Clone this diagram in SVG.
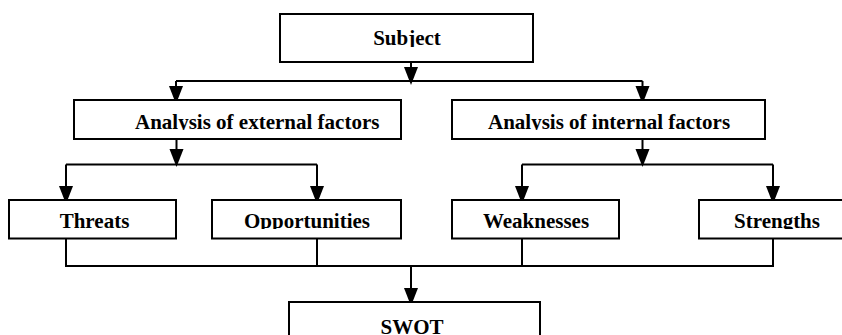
<svg xmlns="http://www.w3.org/2000/svg" width="842" height="335" viewBox="0 0 842 335">
<style>
.box{fill:#fff;stroke:#000;stroke-width:2}
.t{font-family:"Liberation Serif","Times New Roman",serif;font-weight:bold;font-size:21px;fill:#000}
.c{text-anchor:middle}
.ln{fill:none;stroke:#000;stroke-width:2}
</style>
<defs>
<marker id="ah" viewBox="0 0 14 18" refX="14" refY="7" markerWidth="14" markerHeight="18" markerUnits="userSpaceOnUse" orient="auto" overflow="visible">
<path d="M0,0 L18,7 L0,14 Z" fill="#000"/>
</marker>
<clipPath id="c1"><rect x="0" y="0" width="842" height="47"/></clipPath>
<clipPath id="c2"><rect x="0" y="100" width="842" height="30"/></clipPath>
<clipPath id="c3"><rect x="0" y="200" width="842" height="29"/></clipPath>
</defs>
<g id="connectors">
<path class="ln" d="M411,62 V81" marker-end="url(#ah)"/>
<path class="ln" d="M176,81 H642.5"/>
<path class="ln" d="M176,81 V100" marker-end="url(#ah)"/>
<path class="ln" d="M642.5,81 V100" marker-end="url(#ah)"/>
<path class="ln" d="M176.5,139 V163" marker-end="url(#ah)"/>
<path class="ln" d="M66,164.5 H317"/>
<path class="ln" d="M66,164.5 V200" marker-end="url(#ah)"/>
<path class="ln" d="M317,164.5 V200" marker-end="url(#ah)"/>
<path class="ln" d="M642.5,139 V163" marker-end="url(#ah)"/>
<path class="ln" d="M522,164.5 H773"/>
<path class="ln" d="M522,164.5 V200" marker-end="url(#ah)"/>
<path class="ln" d="M773,164.5 V200" marker-end="url(#ah)"/>
<path class="ln" d="M66,238.5 V266 H773 V238.5"/>
<path class="ln" d="M317,238.5 V266"/>
<path class="ln" d="M522,238.5 V266"/>
<path class="ln" d="M411,266 V302" marker-end="url(#ah)"/>
</g>
<g id="subject">
<rect class="box" x="280" y="14" width="253" height="48"/>
<text class="t c" x="407" y="45" clip-path="url(#c1)">Subject</text>
</g>
<g id="external">
<rect class="box" x="74" y="100" width="327" height="39"/>
<text class="t" x="135" y="129" clip-path="url(#c2)">Analysis of external factors</text>
</g>
<g id="internal">
<rect class="box" x="452" y="100" width="313" height="39"/>
<text class="t" x="488" y="129" clip-path="url(#c2)">Analysis of internal factors</text>
</g>
<g id="threats">
<rect class="box" x="9" y="200" width="167" height="38.5"/>
<text class="t c" x="94.5" y="228" clip-path="url(#c3)">Threats</text>
</g>
<g id="opportunities">
<rect class="box" x="212" y="200" width="189" height="38.5"/>
<text class="t c" x="307" y="228" clip-path="url(#c3)">Opportunities</text>
</g>
<g id="weaknesses">
<rect class="box" x="452" y="200" width="167" height="38.5"/>
<text class="t c" x="536" y="228" clip-path="url(#c3)">Weaknesses</text>
</g>
<g id="strengths">
<rect class="box" x="699" y="200" width="150" height="38.5"/>
<text class="t c" x="777" y="228" clip-path="url(#c3)">Strengths</text>
</g>
<g id="swot">
<rect class="box" x="289" y="302" width="251" height="50"/>
<text class="t c" x="412" y="334">SWOT</text>
</g>
</svg>
